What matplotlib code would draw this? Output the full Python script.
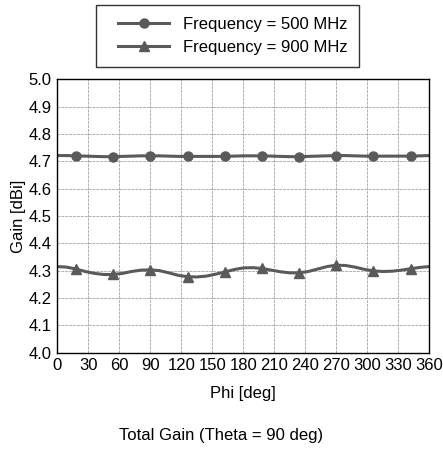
import matplotlib
matplotlib.use('Agg')
import matplotlib.pyplot as plt
from matplotlib.lines import Line2D
from matplotlib.legend_handler import HandlerLine2D

plt.rcParams['font.family'] = ['Liberation Sans', 'DejaVu Sans']

# phi sample points [deg]
phi = [0, 9, 18, 27, 36, 45, 54, 63, 72, 81, 90, 99, 108, 117, 126, 135, 144, 153,
       162, 171, 180, 189, 198, 207, 216, 225, 234, 243, 252, 261, 270, 279, 288,
       297, 306, 315, 324, 333, 342, 351, 360]

gain_500 = [4.721, 4.721, 4.720, 4.719, 4.718, 4.717, 4.717, 4.718, 4.719, 4.720, 4.720,
            4.720, 4.719, 4.718, 4.718, 4.718, 4.718, 4.718, 4.718, 4.719, 4.720, 4.720,
            4.720, 4.719, 4.718, 4.717, 4.717, 4.718, 4.719, 4.720, 4.721, 4.721, 4.720,
            4.719, 4.719, 4.719, 4.719, 4.719, 4.719, 4.720, 4.721]

gain_900 = [4.315, 4.313, 4.306, 4.297, 4.290, 4.286, 4.286, 4.290, 4.297, 4.302, 4.303,
            4.300, 4.292, 4.283, 4.278, 4.277, 4.280, 4.287, 4.295, 4.304, 4.310, 4.311,
            4.308, 4.302, 4.296, 4.292, 4.292, 4.297, 4.306, 4.315, 4.320, 4.319, 4.313,
            4.305, 4.299, 4.297, 4.298, 4.302, 4.307, 4.312, 4.315]

xticks = list(range(0, 361, 30))
yticks = [4.0, 4.1, 4.2, 4.3, 4.4, 4.5, 4.6, 4.7, 4.8, 4.9, 5.0]

col = '#5a5a5a'

fig = plt.figure(figsize=(4.43, 4.49), dpi=100)
ax = fig.add_axes([0.1294, 0.2145, 0.8396, 0.6089])

# markers every 36 deg starting at 18 -> index 2, step 4
ax.plot(phi, gain_500, color=col, lw=2.2, marker='o', ms=6.5,
        markevery=slice(2, None, 4), label='Frequency = 500 MHz')
ax.plot(phi, gain_900, color=col, lw=2.2, marker='^', ms=7,
        markevery=slice(2, None, 4), label='Frequency = 900 MHz')

ax.set_xlim(0, 360)
ax.set_ylim(4.0, 5.0)
ax.set_xticks(xticks)
ax.set_yticks(yticks)
ax.set_yticklabels([f'{v:.1f}' for v in yticks])
ax.tick_params(length=0, labelsize=12, pad=4)
# light grid with a fine dashed core
ax.grid(True, color='#e2e2e2', lw=1.8)
ax.grid(True, color='#b0b0b0', lw=0.7, ls=(0, (3, 1)))
ax.set_axisbelow(True)
for s in ax.spines.values():
    s.set_color('black')
    s.set_linewidth(1.0)

ax.set_xlabel('Phi [deg]', fontsize=12, labelpad=9)
ax.set_ylabel('Gain [dBi]', fontsize=12, labelpad=2)

leg = fig.legend(loc='upper center', bbox_to_anchor=(0.5135, 0.989), fontsize=12,
                 frameon=True, fancybox=False, edgecolor='black', handlelength=3.7,
                 borderpad=0.7, labelspacing=0.5, handletextpad=0.8, borderaxespad=0,
                 handler_map={Line2D: HandlerLine2D(xpad=0.6)})
leg.get_frame().set_linewidth(1.0)

fig.text(0.5, 0.031, 'Total Gain (Theta = 90 deg)', ha='center', va='center', fontsize=12)

fig.savefig('out.png', dpi=100)
